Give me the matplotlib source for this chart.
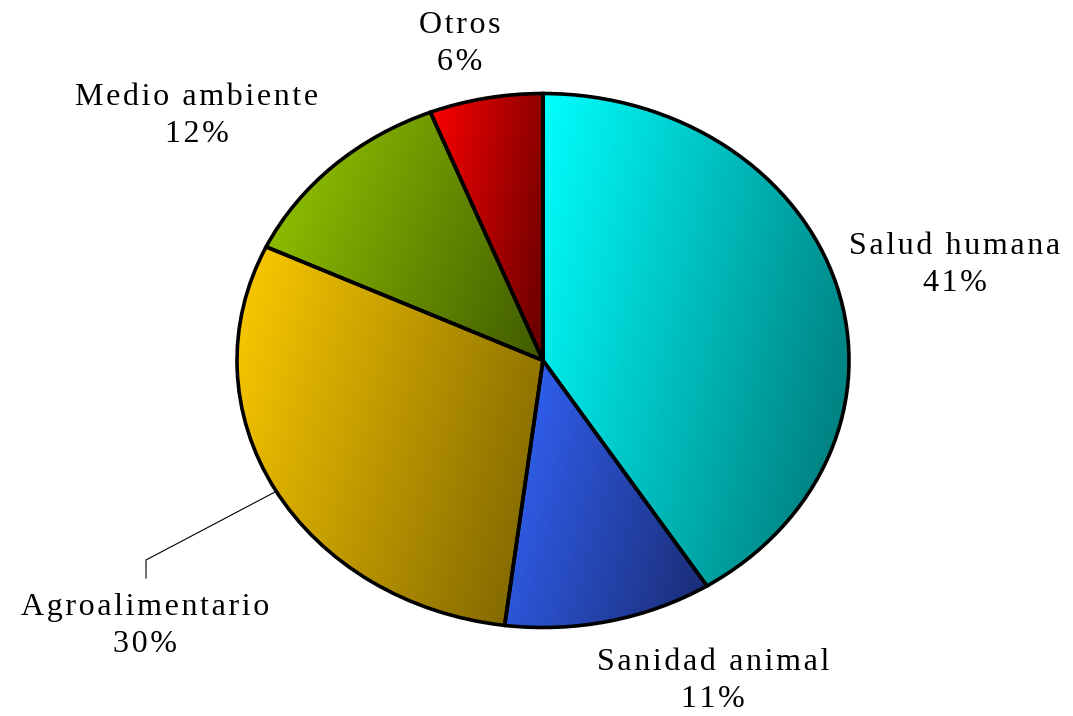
import numpy as np
import matplotlib
matplotlib.use("Agg")
import matplotlib.pyplot as plt
from matplotlib.colors import to_rgb

# ---- data ----
categories = ["Salud humana", "Sanidad animal", "Agroalimentario", "Medio ambiente", "Otros"]
values = [41, 11, 30, 12, 6]
percent_labels = ["41%", "11%", "30%", "12%", "6%"]

# ---- style ----
bright = ["#00FFFF", "#3366FF", "#FFCC00", "#99CC00", "#FF0000"]
dark = ["#007070", "#1A2A70", "#786000", "#3F5A00", "#660000"]

W, H = 1073, 716
fig = plt.figure(figsize=(W / 100, H / 100), dpi=100)
fig.patch.set_facecolor("white")

# pie ellipse in pixels
cx, cy, rx, ry = 543, 360.5, 306, 267
ax = fig.add_axes([(cx - rx) / W, (H - cy - ry) / H, 2 * rx / W, 2 * ry / H])

wedges, _ = ax.pie(values, startangle=90, counterclock=False, radius=1,
                   wedgeprops=dict(edgecolor="black", linewidth=2.6, facecolor="none"))
ax.set_aspect("auto")
ax.axis("off")

# gradient fills clipped to each wedge
for w, b, d in zip(wedges, bright, dark):
    path = w.get_path()
    verts = w.get_transform().transform(path.vertices)
    verts = ax.transData.inverted().transform(verts)
    x0, x1 = verts[:, 0].min(), verts[:, 0].max()
    y0, y1 = verts[:, 1].min(), verts[:, 1].max()
    n = 200
    u = np.linspace(0, 1, n)[None, :]
    v = np.linspace(0, 1, n)[:, None]  # 0 at top
    t = np.clip(0.8 * u + 0.3 * v, 0, None)
    t = t / t.max()
    bc = np.array(to_rgb(b))
    dc = np.array(to_rgb(d))
    img = bc[None, None, :] * (1 - t[..., None]) + dc[None, None, :] * t[..., None]
    im = ax.imshow(img, extent=(x0, x1, y0, y1), origin="upper", aspect="auto",
                   interpolation="bilinear", zorder=0.5)
    im.set_clip_path(w)
    w.set_zorder(2)

ax.set_xlim(-1, 1)
ax.set_ylim(-1, 1)


def spaced(s):
    return "\u200a".join(s)


font = dict(family=["Liberation Serif", "DejaVu Serif"], fontsize=23, color="black",
            ha="center", va="center", linespacing=1.32)
label_pos = [(955, 265), (713, 681), (145, 626), (197, 116), (460, 44)]
for name, pct, (px, py) in zip(categories, percent_labels, label_pos):
    fig.text(px / W, 1 - py / H, spaced(name) + "\n" + spaced(pct), **font)

# leader line for Agroalimentario
lx = np.array([275, 146, 146]) / W
ly = 1 - np.array([492, 560, 578]) / H
fig.add_artist(plt.Line2D(lx, ly, color="black", linewidth=0.8))

fig.savefig("out.png", dpi=100, facecolor="white")
